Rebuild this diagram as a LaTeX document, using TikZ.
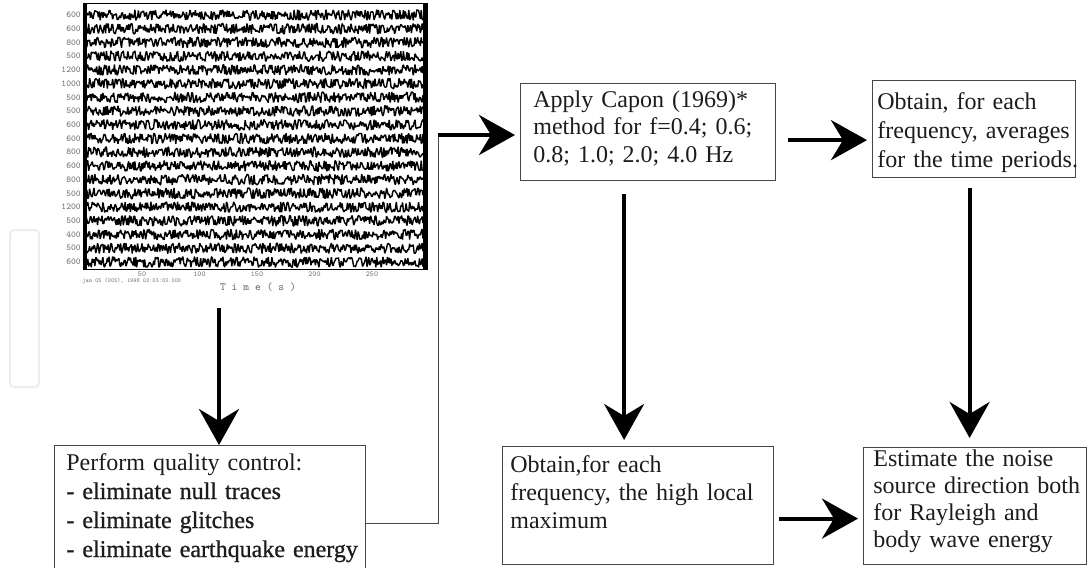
\documentclass[tikz,border=0pt]{standalone}
\usepackage{fontspec}
\setmainfont{Liberation Serif}
\newfontfamily\heavyserif{Liberation Serif}[FakeBold=0.8]
\usetikzlibrary{positioning, arrows.meta, calc}

\definecolor{boxgray}{RGB}{70,70,70}
\definecolor{textgray}{RGB}{28,28,28}
\definecolor{labgray}{RGB}{110,110,110}
\definecolor{faint}{RGB}{236,238,238}

\tikzset{
    stepbox/.style={draw=boxgray, line width=0.6pt, rectangle, inner sep=0pt, anchor=north west},
    steptext/.style={anchor=base west, inner sep=0pt, text width=#1, align=left, text=textgray},
    flow/.style={line width=2pt, -{Stealth[length=18pt, width=20pt, inset=6pt]}},
    link/.style={draw=boxgray, line width=0.5pt},
    trace/.style={line width=0.7pt, line join=bevel},
    tinylab/.style={font=\ttfamily\fontsize{4.5}{5}\selectfont, text=labgray, inner sep=0pt}
}

\begin{document}
\begin{tikzpicture}[x=0.5pt, y=-0.5pt]
    \useasboundingbox (0,0) rectangle (1088,568);
    \clip (0,0) rectangle (1088,568);
    \pgfmathsetseed{1969}

    % faint frame at the left margin
    \draw[faint, line width=1pt, rounded corners=2pt] (10,230) rectangle (39,387);

    % seismogram
    \node[inner sep=0pt, minimum width=172pt, minimum height=145pt, anchor=north west] (seis) at (83,3) {};
    \foreach \lab [count=\i from 0] in {600,600,800,500,1200,1000,500,500,600,600,800,600,800,500,1200,500,400,500,600}
    {
        \draw[trace] plot[variable=\t, domain=86:423, samples=380] (\t, {15+13.72*\i+5.4*rand});
        \node[tinylab, anchor=east] (lab\i) at (81,15+13.72*\i) {\lab};
    }
    \draw[line width=0.5pt] (83,3) rectangle (427,269);
    \draw[line width=2pt] (84.5,3) -- (84.5,269);
    \draw[line width=2.4pt] (425.5,3) -- (425.5,269);
    \foreach \t in {50,100,...,250}
    {
        \node[tinylab, font=\ttfamily\fontsize{3.8}{4}\selectfont] (tick\t) at (84.5+\t*1.15,274) {\t};
    }
    \node[tinylab, font=\ttfamily\fontsize{3}{4}\selectfont, anchor=west] (stamp) at (82,281) {jan 05 (005), 1998 03:03:03.000};
    \node[tinylab, font=\ttfamily\fontsize{5.5}{6}\selectfont] (taxis) at (258,287) {T i m e  ( s )};

    % boxes
    \node[stepbox, minimum width=155.5pt, minimum height=65pt] (qc) at (54,445) {};
    \node[stepbox, minimum width=127.5pt, minimum height=48.5pt] (capon) at (520,83) {};
    \node[stepbox, minimum width=101.5pt, minimum height=48.5pt] (avg) at (872,80) {};
    \node[stepbox, minimum width=135.5pt, minimum height=59pt] (localmax) at (502,446) {};
    \node[stepbox, minimum width=111.5pt, minimum height=58.5pt] (estimate) at (863,447) {};

    % texts
    \node[steptext=150pt, font=\fontsize{12}{14.5}\selectfont] (qctxt) at (66,470)
        {Perform quality control:\\{\heavyserif - eliminate null traces}\\{\heavyserif - eliminate glitches}\\{\heavyserif - eliminate earthquake energy}};
    \node[steptext=124pt, font=\fontsize{12}{13.75}\selectfont] (capontxt) at (533,107)
        {Apply Capon (1969)*\\method for f=0.4; 0.6;\\0.8; 1.0; 2.0; 4.0 Hz};
    \node[steptext=120pt, font=\fontsize{12}{14.5}\selectfont] (avgtxt) at (877,109)
        {Obtain, for each\\frequency, averages\\for the time periods.};
    \node[steptext=130pt, font=\fontsize{12}{14}\selectfont] (localmaxtxt) at (510,472)
        {Obtain,for each\\frequency, the high local\\maximum};
    \node[steptext=120pt, font=\fontsize{12}{13.5}\selectfont] (estimatetxt) at (873,466)
        {Estimate the noise\\source direction both\\for Rayleigh and\\body wave energy};

    % connectors
    \coordinate (seisout) at (219,308);
    \coordinate (bendlow) at (438,523);
    \coordinate (bend) at (438,135);
    \draw[flow] (seisout) -- (seisout |- qc.north);
    \draw[link] (qc.east |- bendlow) -- (bendlow) -- (bend);
    \draw[flow, shorten >=2.5pt] (bend) -- (capon.west |- bend);
    \draw[flow, shorten <=6pt, shorten >=2.5pt] ([yshift=-4pt]capon.east) -- ([yshift=-4pt]capon.east -| avg.west);
    \draw[flow, shorten <=6.5pt, shorten >=3pt] ([xshift=-12pt]capon.south) -- ([xshift=-12pt]capon.south |- localmax.north);
    \draw[flow, shorten <=5pt, shorten >=4.5pt] ([xshift=-2.25pt]avg.south) -- ([xshift=-2.25pt]avg.south |- estimate.north);
    \draw[flow, shorten <=2.5pt, shorten >=2.5pt] ([yshift=-6.5pt]localmax.east) -- ([yshift=-6.5pt]localmax.east -| estimate.west);
\end{tikzpicture}
\end{document}
